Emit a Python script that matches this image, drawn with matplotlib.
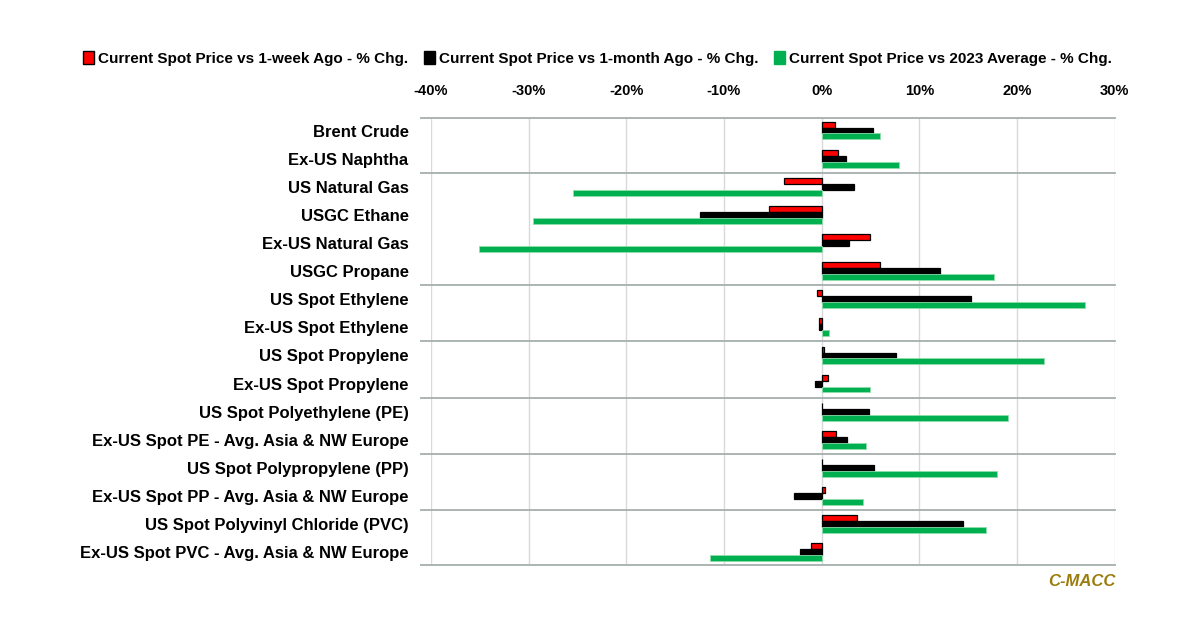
import numpy as np
import matplotlib
matplotlib.use('Agg')
import matplotlib.pyplot as plt
from matplotlib.patches import Patch
import matplotlib.ticker as mtick

categories = ['Brent Crude', 'Ex-US Naphtha', 'US Natural Gas', 'USGC Ethane',
              'Ex-US Natural Gas', 'USGC Propane', 'US Spot Ethylene',
              'Ex-US Spot Ethylene', 'US Spot Propylene', 'Ex-US Spot Propylene',
              'US Spot Polyethylene (PE)', 'Ex-US Spot PE - Avg. Asia & NW Europe',
              'US Spot Polypropylene (PP)', 'Ex-US Spot PP - Avg. Asia & NW Europe',
              'US Spot Polyvinyl Chloride (PVC)', 'Ex-US Spot PVC - Avg. Asia & NW Europe']

week_chg = [1.4, 1.7, -3.9, -5.4, 4.9, 6.0, -0.45, -0.3, 0.2, 0.6, 0.0, 1.5, 0.0, 0.3, 3.6, -1.1]
month_chg = [5.3, 2.5, 3.3, -12.5, 2.8, 12.1, 15.3, -0.3, 7.6, -0.7, 4.8, 2.6, 5.4, -2.8, 14.5, -2.2]
avg2023_chg = [6.0, 7.9, -25.4, -29.5, -35.1, 17.6, 27.0, 0.8, 22.8, 4.9, 19.1, 4.5, 17.9, 4.2, 16.8, -11.4]

series_names = ['Current Spot Price vs 1-week Ago - % Chg.',
                'Current Spot Price vs 1-month Ago - % Chg.',
                'Current Spot Price vs 2023 Average - % Chg.']

separators = [1.5, 5.5, 7.5, 9.5, 11.5, 13.5]

plt.rcParams['font.family'] = ['Liberation Sans Narrow', 'Liberation Sans', 'DejaVu Sans']
plt.rcParams['font.weight'] = 'bold'

fig = plt.figure(figsize=(12, 6.27), dpi=100)
ax = fig.add_axes([0.359, 0.099, 0.570, 0.713])

y = np.arange(len(categories))
h = 0.21
ax.barh(y - h, week_chg, height=h, color='#ff0000', edgecolor='black', linewidth=0.9, zorder=3)
ax.barh(y, month_chg, height=h, color='black', edgecolor='black', linewidth=0.9, zorder=3)
ax.barh(y + h, avg2023_chg, height=h, color='#00b050', edgecolor='#8fdcaa', linewidth=0.6, zorder=3)

ax.set_xlim(-40, 30)
ax.set_ylim(15.45, -0.45)
ax.set_xticks(np.arange(-40, 31, 10))
ax.xaxis.set_major_formatter(mtick.FuncFormatter(lambda v, p: f'{v:.0f}%'))
ax.xaxis.tick_top()
ax.tick_params(axis='x', length=0, pad=14, labelsize=10.5)
ax.set_yticks(y)
ax.set_yticklabels(categories, fontsize=12)
ax.tick_params(axis='y', length=0, pad=16)
ax.grid(axis='x', color='#d9d9d9', linewidth=1, zorder=0)
for s in ax.spines.values():
    s.set_visible(False)

trans = ax.get_yaxis_transform()
for yy in [-0.45] + separators + [15.45]:
    ax.plot([-0.015, 1.0], [yy, yy], transform=trans, color='#a6aeae', linewidth=1.3,
            clip_on=False, zorder=2)

handles = [Patch(facecolor='#ff0000', edgecolor='black', linewidth=1),
           Patch(facecolor='black', edgecolor='black'),
           Patch(facecolor='#00b050', edgecolor='#00b050')]
fig.legend(handles, series_names, loc='center', bbox_to_anchor=(0.498, 0.907), ncol=3,
           frameon=False, fontsize=11, handlelength=0.7, handleheight=0.9,
           handletextpad=0.3, columnspacing=1.0)

fig.text(0.93, 0.073, 'C-MACC', ha='right', va='center', fontsize=12, style='italic',
         fontweight='bold', color='#9c7c0c')

fig.savefig('out.png', dpi=100)
